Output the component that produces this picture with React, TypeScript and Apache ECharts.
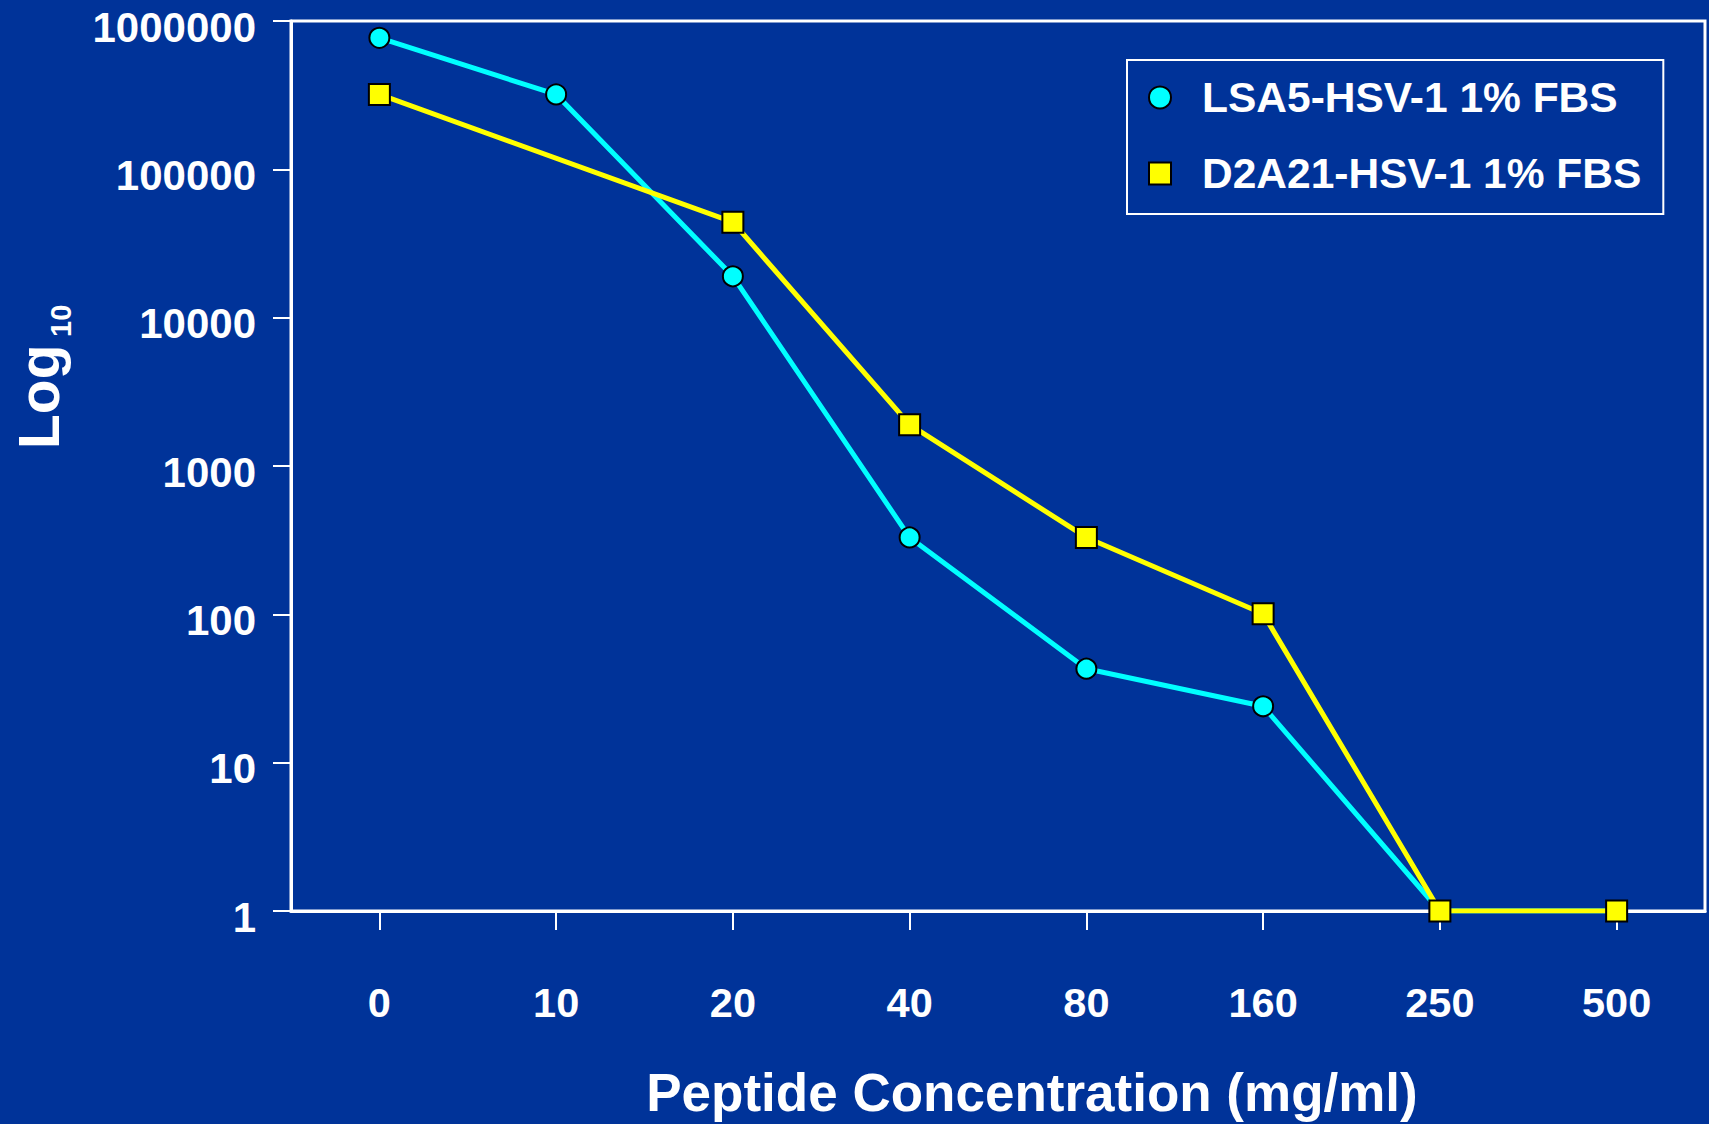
import React, { useEffect, useRef } from "react";
import * as echarts from "echarts";

const categories = ["0", "10", "20", "40", "80", "160", "250", "500"];
const lsa5Values: (number | null)[] = [770000, 320000, 19000, 330, 43, 24, 1, 1];
const d2a21Values: (number | null)[] = [320000, null, 44000, 1900, 330, 101, 1, 1];
const seriesNames = ["LSA5-HSV-1 1% FBS", "D2A21-HSV-1 1% FBS"];
const xAxisTitle = "Peptide Concentration (mg/ml)";
const yTitleMain = "Log";
const yTitleSub = "10";

const FONT = "'Liberation Sans', Arial, Helvetica, sans-serif";
const BG = "#003399";

export default function App() {
  const ref = useRef<HTMLDivElement>(null);

  useEffect(() => {
    document.body.style.margin = "0";
    const chart = echarts.init(ref.current!, null, { renderer: "svg" });
    const option: any = {
      animation: false,
      backgroundColor: BG,
      textStyle: { fontFamily: FONT },
      grid: {
        left: 291,
        top: 21,
        right: 4,
        bottom: 213,
        outerBoundsMode: "none",
        containLabel: false,
        show: true,
        borderColor: "#ffffff",
        borderWidth: 3,
        backgroundColor: "transparent",
      },
      legend: {
        orient: "vertical",
        left: 1127,
        top: 60,
        padding: [16, 22, 19, 21],
        itemGap: 33,
        itemWidth: 22,
        itemHeight: 22,
        borderColor: "#ffffff",
        borderWidth: 2,
        textStyle: {
          color: "#ffffff",
          fontSize: 42.5,
          lineHeight: 43,
          fontWeight: "bold",
          fontFamily: FONT,
          padding: [0, 0, 0, 26],
        },
        data: [
          { name: seriesNames[0], icon: "circle" },
          { name: seriesNames[1], icon: "rect" },
        ],
      },
      xAxis: {
        type: "category",
        data: categories,
        boundaryGap: true,
        name: xAxisTitle,
        nameLocation: "middle",
        nameGap: 155,
        nameTextStyle: {
          color: "#ffffff",
          fontSize: 53,
          fontWeight: "bold",
          fontFamily: FONT,
          padding: [0, 0, 0, 68],
        },
        axisLine: { show: true, lineStyle: { color: "#ffffff", width: 3 } },
        axisTick: {
          show: true,
          alignWithLabel: true,
          inside: false,
          length: 19,
          lineStyle: { color: "#ffffff", width: 2 },
        },
        axisLabel: {
          color: "#ffffff",
          fontSize: 41.5,
          fontWeight: "bold",
          fontFamily: FONT,
          margin: 70,
        },
        splitLine: { show: false },
      },
      yAxis: {
        type: "log",
        logBase: 10,
        min: 1,
        max: 1000000,
        axisLine: { show: true, lineStyle: { color: "#ffffff", width: 3 } },
        axisTick: {
          show: true,
          inside: false,
          length: 18,
          lineStyle: { color: "#ffffff", width: 2 },
        },
        axisLabel: {
          color: "#ffffff",
          fontSize: 42,
          fontWeight: "bold",
          fontFamily: FONT,
          margin: 35,
          formatter: (v: number) => "{v|" + String(Math.round(v)) + "}",
          rich: {
            v: {
              color: "#ffffff",
              fontSize: 42,
              fontWeight: "bold",
              fontFamily: FONT,
              lineHeight: 44,
              padding: [12, 0, 0, 0],
            },
          },
        },
        splitLine: { show: false },
        minorTick: { show: false },
      },
      graphic: [
        {
          type: "group",
          x: 38.5,
          y: 449,
          rotation: Math.PI / 2,
          children: [
            {
              type: "text",
              x: 0,
              y: 0,
              style: {
                text: yTitleMain,
                fill: "#ffffff",
                fontSize: 57,
                fontWeight: "bold",
                fontFamily: FONT,
                align: "left",
                verticalAlign: "middle",
              },
            },
            {
              type: "text",
              x: 112,
              y: 22,
              style: {
                text: yTitleSub,
                fill: "#ffffff",
                fontSize: 29,
                fontWeight: "bold",
                fontFamily: FONT,
                align: "left",
                verticalAlign: "middle",
              },
            },
          ],
        },
      ],
      series: [
        {
          name: seriesNames[0],
          type: "line",
          data: lsa5Values,
          symbol: "circle",
          symbolSize: 20,
          showAllSymbol: true,
          connectNulls: true,
          lineStyle: { color: "#00ffff", width: 5 },
          itemStyle: { color: "#00ffff", borderColor: "#000000", borderWidth: 2 },
          z: 2,
        },
        {
          name: seriesNames[1],
          type: "line",
          data: d2a21Values,
          symbol: "rect",
          symbolSize: 21,
          showAllSymbol: true,
          connectNulls: true,
          lineStyle: { color: "#ffff00", width: 5 },
          itemStyle: { color: "#ffff00", borderColor: "#000000", borderWidth: 2 },
          z: 3,
        },
      ],
    };
    chart.setOption(option);
    return () => {
      chart.dispose();
    };
  }, []);

  return <div ref={ref} style={{ width: 1709, height: 1124 }} />;
}
